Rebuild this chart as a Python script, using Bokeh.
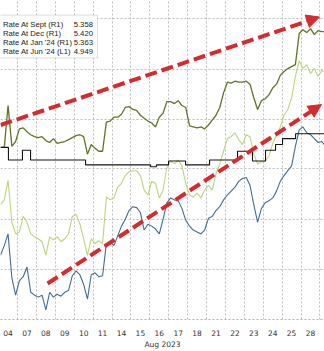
import numpy as np
from bokeh.plotting import figure
from bokeh.models import Range1d, FixedTicker, Grid, Label, BoxAnnotation, Arrow, NormalHead
from bokeh.embed import file_html
from bokeh.resources import INLINE

# ---------------- data ----------------
day_labels = ["04", "07", "08", "09", "10", "11", "14", "15", "16", "17",
              "18", "21", "22", "23", "24", "25", "28"]
axis_title = "Aug 2023"

# intraday sample times (trading-day index, 5 samples per day)
t = np.round(-0.4 + 0.2 * np.arange(87), 2)

# Rate at Sept (R1) - stepped series: change times and levels
sept_t = [-0.4, 0.02, 0.76, 1.19, 4.10, 7.54, 7.85, 8.49, 9.39, 10.66,
          12.14, 12.93, 13.62, 14.15, 14.52, 15.21, 16.8]
sept = [5.3585, 5.352, 5.357, 5.352, 5.3495, 5.3485, 5.3495, 5.3515, 5.3495, 5.352,
        5.3565, 5.3515, 5.357, 5.360, 5.363, 5.3655, 5.3655]

# Rate at Dec (R1)
dec = [5.3585, 5.3585, 5.380, 5.359, 5.3615, 5.368, 5.3685, 5.3665, 5.365, 5.364,
       5.3635, 5.364, 5.362, 5.361, 5.363, 5.3605, 5.361, 5.3615, 5.3625, 5.3635,
       5.3645, 5.365, 5.364, 5.355, 5.360, 5.358, 5.3565, 5.3565, 5.3715, 5.372,
       5.374, 5.374, 5.3755, 5.379, 5.3795, 5.378, 5.3775, 5.375, 5.3735, 5.372,
       5.371, 5.369, 5.374, 5.376, 5.382, 5.382, 5.381, 5.3825, 5.380, 5.379,
       5.3695, 5.369, 5.3685, 5.369, 5.368, 5.370, 5.3725, 5.375, 5.379, 5.3865,
       5.392, 5.3915, 5.3925, 5.392, 5.392, 5.3925, 5.391, 5.384, 5.378, 5.3825,
       5.3835, 5.3855, 5.389, 5.391, 5.3955, 5.3975, 5.399, 5.400, 5.401, 5.417,
       5.419, 5.4175, 5.4195, 5.4165, 5.4185, 5.418, 5.418]

# Rate at Jan '24 (R1)
jan24 = [5.329, 5.3315, 5.3415, 5.320, 5.314, 5.315, 5.323, 5.320, 5.314, 5.3125,
         5.3115, 5.310, 5.303, 5.3125, 5.311, 5.3125, 5.310, 5.3115, 5.314, 5.323,
         5.324, 5.319, 5.3115, 5.303, 5.3115, 5.309, 5.3105, 5.309, 5.333, 5.3315,
         5.3325, 5.338, 5.340, 5.344, 5.346, 5.3465, 5.3465, 5.344, 5.3365, 5.334,
         5.341, 5.340, 5.3325, 5.3365, 5.348, 5.3515, 5.350, 5.352, 5.349, 5.340,
         5.334, 5.333, 5.335, 5.3325, 5.3365, 5.339, 5.3365, 5.345, 5.350, 5.3565,
         5.363, 5.364, 5.366, 5.3625, 5.360, 5.365, 5.364, 5.355, 5.350, 5.351,
         5.3515, 5.354, 5.3605, 5.365, 5.369, 5.375, 5.378, 5.384, 5.395, 5.403,
         5.399, 5.401, 5.3965, 5.399, 5.395, 5.398, 5.397]

# Rate at Jun '24 (L1)
jun24 = [4.837, 4.847, 4.859, 4.814, 4.796, 4.811, 4.815, 4.825, 4.799, 4.796,
         4.794, 4.796, 4.781, 4.799, 4.794, 4.797, 4.795, 4.799, 4.801, 4.816,
         4.821, 4.817, 4.807, 4.792, 4.817, 4.819, 4.815, 4.816, 4.849, 4.851,
         4.847, 4.857, 4.867, 4.874, 4.883, 4.887, 4.886, 4.881, 4.863, 4.869,
         4.867, 4.864, 4.859, 4.874, 4.891, 4.896, 4.894, 4.893, 4.885, 4.873,
         4.867, 4.863, 4.861, 4.859, 4.863, 4.875, 4.877, 4.883, 4.887, 4.894,
         4.899, 4.903, 4.907, 4.913, 4.916, 4.917, 4.909, 4.889, 4.871, 4.885,
         4.891, 4.893, 4.896, 4.903, 4.913, 4.919, 4.924, 4.929, 4.949, 4.966,
         4.969, 4.963, 4.961, 4.957, 4.953, 4.954, 4.949]

legend_names = ["Rate At Sept (R1)", "Rate At Dec (R1)", "Rate At Jan '24 (R1)", "Rate At Jun '24 (L1)"]
legend_values = ["5.358", "5.420", "5.363", "4.949"]

# trend arrows (x0, y0, x1, y1) in day index / R1 units
arrow_upper = (-0.4, 5.370, 16.48, 5.4255)
arrow_lower = (2.09, 5.2885, 16.58, 5.3805)

r1_grid = [5.4245, 5.3985, 5.373, 5.3475, 5.3215, 5.2955]

# ---------------- figure ----------------
FONT = "DejaVu Sans"
LFONT = "Liberation Sans"
RED = "#d62a2e"

p = figure(width=324, height=351, output_backend="svg", toolbar_location=None,
           x_range=Range1d(-0.4, 16.74), y_range=Range1d(5.270, 5.434),
           y_axis_type=None, min_border=0, min_border_bottom=0,
           outline_line_color=None, background_fill_color="white",
           border_fill_color="white")
p.extra_y_ranges = {"L1": Range1d(4.771, 5.099)}

# x axis: labels centred in each day, grid at day boundaries
p.xaxis.ticker = FixedTicker(ticks=list(range(len(day_labels))))
p.xaxis.major_label_overrides = {i: lab for i, lab in enumerate(day_labels)}
p.xaxis.axis_label = axis_title
p.xaxis.axis_label_text_font = FONT
p.xaxis.axis_label_text_font_size = "7.5px"
p.xaxis.axis_label_text_font_style = "normal"
p.xaxis.axis_label_text_color = "#333333"
p.xaxis.axis_label_standoff = 1
p.xaxis.major_label_text_font = FONT
p.xaxis.major_label_text_font_size = "7.5px"
p.xaxis.major_label_text_color = "#333333"
p.xaxis.major_label_standoff = 4
p.xaxis.major_tick_line_color = None
p.xaxis.minor_tick_line_color = None
p.xaxis.axis_line_color = "#b0b0b0"
p.xaxis.axis_line_dash = "2 2"

p.xgrid.ticker = FixedTicker(ticks=[k + 0.5 for k in range(len(day_labels))])
p.xgrid.grid_line_color = "#bcbcbc"
p.xgrid.grid_line_dash = "2 2"
p.xgrid.grid_line_width = 1

ygrid = Grid(dimension=1, ticker=FixedTicker(ticks=r1_grid),
             grid_line_color="#bcbcbc", grid_line_dash="2 2", grid_line_width=1)
p.add_layout(ygrid)

# series
p.line(t, jan24, line_color="#bcd47e", line_width=1.1)
p.line(t, jun24, line_color="#426d8f", line_width=1.1, y_range_name="L1")
p.line(t, dec, line_color="#5f7425", line_width=1.3)
p.step(sept_t, sept, mode="after", line_color="#151515", line_width=1.1)

# arrows
for (x0, y0, x1, y1) in (arrow_upper, arrow_lower):
    p.add_layout(Arrow(end=NormalHead(size=13, fill_color=RED, line_color=RED, line_width=1),
                       x_start=x0, y_start=y0, x_end=x1, y_end=y1,
                       line_color=RED, line_width=4, line_dash="12 5"))

# legend box
p.add_layout(BoxAnnotation(left=-0.45, right=4.73, top=5.4265, bottom=5.4045,
                           fill_color="white", fill_alpha=1.0,
                           line_color="#8a8a8a", line_width=1, level="overlay"))
row_y = [5.4215, 5.417, 5.4125, 5.408]
for name, val, yy in zip(legend_names, legend_values, row_y):
    p.add_layout(Label(x=-0.27, y=yy, text=name, text_font=LFONT, text_font_size="7.7px",
                       text_color="#222222", text_baseline="middle", text_align="left",
                       level="overlay"))
    p.add_layout(Label(x=4.49, y=yy, text=val, text_font=LFONT, text_font_size="7.7px",
                       text_color="#222222", text_baseline="middle", text_align="right",
                       level="overlay"))

open("out.html", "w").write(file_html(p, INLINE))
